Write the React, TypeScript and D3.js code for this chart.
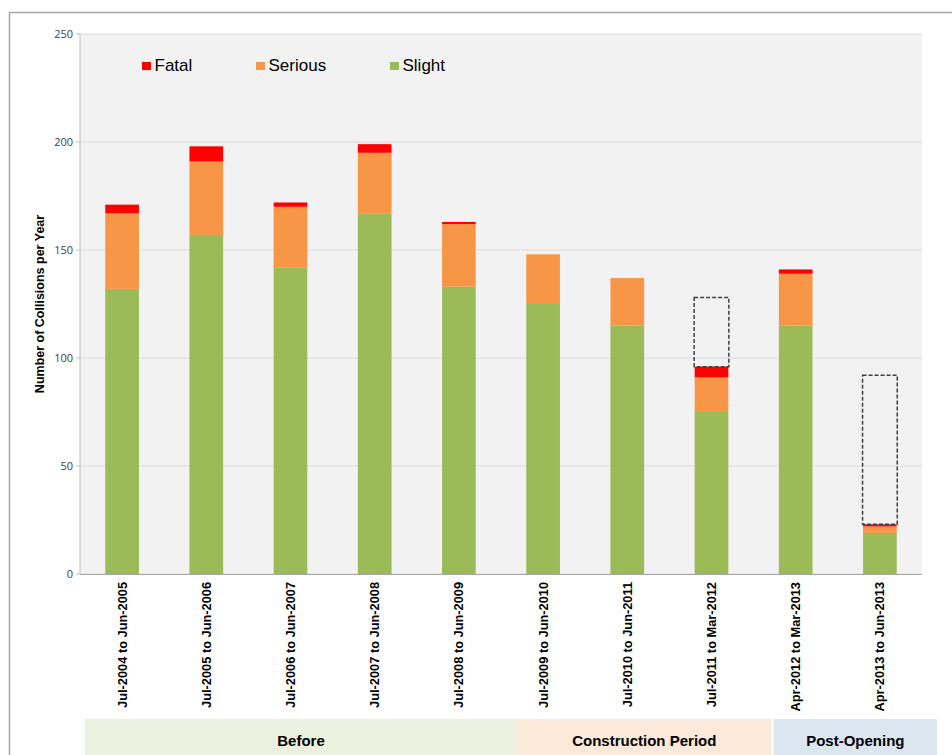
import React from "react";
import * as d3 from "d3";

// Collision periods
const periods = [
  "Jul-2004 to Jun-2005",
  "Jul-2005 to Jun-2006",
  "Jul-2006 to Jun-2007",
  "Jul-2007 to Jun-2008",
  "Jul-2008 to Jun-2009",
  "Jul-2009 to Jun-2010",
  "Jul-2010 to Jun-2011",
  "Jul-2011 to Mar-2012",
  "Apr-2012 to Mar-2013",
  "Apr-2013 to Jun-2013",
];

// Collisions by severity
const slight = [132, 157, 142, 167, 133, 125, 115, 75, 115, 19];
const serious = [35, 34, 28, 28, 29, 23, 22, 16, 24, 3];
const fatal = [4, 7, 2, 4, 1, 0, 0, 5, 2, 1];

// Annualised totals for partial-year periods (null = full year)
const annualised: (number | null)[] = [null, null, null, null, null, null, null, 128, null, 92];

const yTicks = [0, 50, 100, 150, 200, 250];

// Scheme phases spanning the periods
const phaseNames = ["Before", "Construction Period", "Post-Opening"];
const phaseStart = [0, 5, 8];
const phaseEnd = [4, 7, 9];
const phaseColors = ["#EBF1DE", "#FDE9D9", "#DCE6F1"];

const severityKeys = ["slight", "serious", "fatal"];
const severityLabels = ["Fatal", "Serious", "Slight"];
const severityColors: Record<string, string> = {
  slight: "#9BBB59",
  serious: "#F79646",
  fatal: "#FF0000",
};

const W = 952;
const H = 755;
const M = { left: 80, right: 922, top: 34, bottom: 574 };

export default function App() {
  const x = d3
    .scaleBand<string>()
    .domain(periods)
    .range([M.left, M.right])
    .paddingInner(0.6)
    .paddingOuter(0.3);
  const y = d3.scaleLinear().domain([0, 250]).range([M.bottom, M.top]);

  const rows = periods.map((p, i) => ({
    period: p,
    slight: slight[i],
    serious: serious[i],
    fatal: fatal[i],
  }));
  const stacked = d3.stack<any>().keys(severityKeys)(rows);

  const step = x.step();
  const bw = x.bandwidth();

  return (
    <div style={{ position: "fixed", left: 0, top: 0 }}>
      <svg width={W} height={H} style={{ display: "block", background: "#fff" }}>
        {/* outer chart frame */}
        <rect x={9.5} y={12.5} width={960} height={800} fill="none" stroke="#A6A6A6" strokeWidth={1.5} />

        {/* plot area */}
        <rect x={M.left} y={M.top} width={M.right - M.left} height={M.bottom - M.top} fill="#F2F2F2" />
        {yTicks.map((t) => (
          <line key={"g" + t} x1={M.left} x2={M.right} y1={y(t)} y2={y(t)} stroke="#DCDCDC" strokeWidth={1} />
        ))}

        {/* stacked bars */}
        {stacked.map((layer) =>
          layer.map((d, i) => (
            <rect
              key={layer.key + i}
              x={x(periods[i])}
              y={y(d[1])}
              width={bw}
              height={Math.max(0, y(d[0]) - y(d[1]))}
              fill={severityColors[layer.key]}
            />
          ))
        )}

        {/* annualised outline boxes */}
        {annualised.map((v, i) =>
          v == null ? null : (
            <rect
              key={"a" + i}
              x={(x(periods[i]) as number) - 0.5}
              y={y(v)}
              width={bw + 1}
              height={y(slight[i] + serious[i] + fatal[i]) - y(v)}
              fill="none"
              stroke="#404040"
              strokeWidth={1.5}
              strokeDasharray="4,2"
            />
          )
        )}

        {/* axes */}
        <line x1={M.left} x2={M.left} y1={M.top} y2={M.bottom} stroke="#BFBFBF" />
        <line x1={M.left} x2={M.right} y1={M.bottom + 0.5} y2={M.bottom + 0.5} stroke="#A6A6A6" />
        {yTicks.map((t) => (
          <g key={"t" + t}>
            <line x1={M.left - 4} x2={M.left} y1={y(t)} y2={y(t)} stroke="#BFBFBF" />
            <text
              x={M.left - 7}
              y={y(t) + 4}
              textAnchor="end"
              fontFamily="Open Sans, Liberation Sans, sans-serif"
              fontSize={11}
              fill="#404040"
            >
              {t}
            </text>
          </g>
        ))}

        <text
          transform={`translate(44, ${(M.top + M.bottom) / 2}) rotate(-90)`}
          textAnchor="middle"
          fontFamily="Liberation Sans, Arial, sans-serif"
          fontWeight="bold"
          fontSize={12.5}
          fill="#000"
        >
          Number of Collisions per Year
        </text>

        {/* period labels */}
        {periods.map((p) => (
          <text
            key={"l" + p}
            transform={`translate(${(x(p) as number) + bw / 2 + 4.5}, ${M.bottom + 8}) rotate(-90)`}
            textAnchor="end"
            fontFamily="Liberation Sans, Arial, sans-serif"
            fontWeight="bold"
            fontSize={12.8}
            fill="#000"
          >
            {p}
          </text>
        ))}

        {/* legend */}
        {severityLabels.map((lab, i) => {
          const lx = [142, 256, 390][i];
          return (
            <g key={"lg" + lab}>
              <rect x={lx} y={62} width={9} height={8} fill={severityColors[lab.toLowerCase()]} />
              <text
                x={lx + 12.5}
                y={71}
                fontFamily="Liberation Sans, Arial, sans-serif"
                fontSize={17}
                fill="#000"
              >
                {lab}
              </text>
            </g>
          );
        })}

        {/* phase bands */}
        {phaseNames.map((name, i) => {
          const x0 = i === 0 ? M.left + 5 : (x(periods[phaseStart[i]]) as number) - (step - bw) / 2 + (i === 1 ? 16 : 20);
          const x1 = (x(periods[phaseEnd[i]]) as number) + bw + (step - bw) / 2 + (i === 2 ? 15 : 16) + (i === 1 ? 2 : 0);
          return (
            <g key={"p" + name}>
              <rect x={x0} y={719} width={x1 - x0} height={H - 719} fill={phaseColors[i]} />
              <text
                x={(x0 + x1) / 2}
                y={745.5}
                textAnchor="middle"
                fontFamily="Liberation Sans, Arial, sans-serif"
                fontWeight="bold"
                fontSize={15}
                fill="#000"
              >
                {name}
              </text>
            </g>
          );
        })}
      </svg>
    </div>
  );
}
